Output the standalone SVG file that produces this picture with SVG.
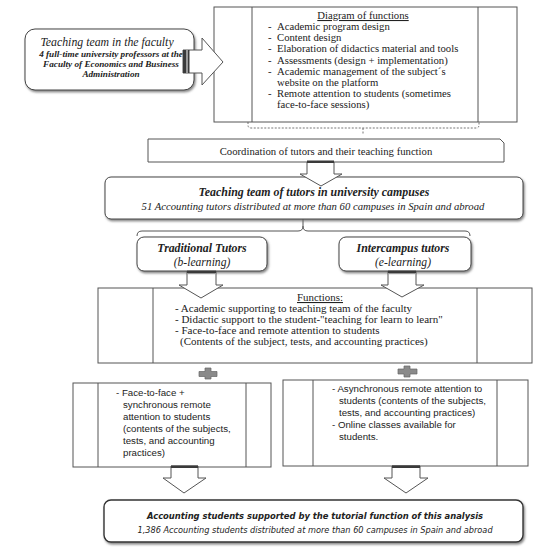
<svg xmlns="http://www.w3.org/2000/svg" width="550" height="548" viewBox="0 0 550 548">
<defs>
<filter id="sh" x="-10%" y="-20%" width="120%" height="150%">
<feDropShadow dx="1.2" dy="1.8" stdDeviation="1.3" flood-color="#666" flood-opacity="0.8"/>
</filter>
<style>
.box{fill:#fff;stroke:#555;stroke-width:1}
.rbox{fill:#fff;stroke:#444;stroke-width:1;filter:url(#sh)}
.ln{stroke:#555;stroke-width:1;fill:none}
.arr{fill:#fff;stroke:#555;stroke-width:1}
.bar{fill:#3a3a3a}
.bar2{fill:#999}
.ser{font-family:"Liberation Serif","Times New Roman",serif;fill:#222}
.f10{font-size:10.7px}
.san{font-family:"Liberation Sans",Arial,sans-serif;font-size:9.7px;fill:#222}
.got{font-family:"DejaVu Sans",Verdana,sans-serif;font-style:italic;fill:#222}
.plus{fill:#8a8a8a;stroke:#666;stroke-width:0.7}
.dash{stroke:#777;stroke-width:1;fill:none;stroke-dasharray:2 1.5}
</style>
</defs>
<rect width="550" height="548" fill="#fff"/>

<g id="connectors">
<path class="dash" d="M248,122 L248,125 Q248,128 251,128 L476,128 Q479,128 479,125 L479,122 M363,128 L363,134"/>
<path class="ln" d="M303,219 L303,226 Q303,231 298,231 L142,231 Q137,231 137,236 M303,226 Q303,231 308,231 L465,231 Q470,231 470,236"/>
</g>

<g id="functions-top">
<rect class="box" x="214" y="7" width="303" height="115"/>
<line class="ln" x1="252" y1="7" x2="252" y2="122"/>
<line class="ln" x1="478" y1="7" x2="478" y2="122"/>
<text class="ser f10" x="363" y="19" text-anchor="middle" text-decoration="underline">Diagram of functions</text>
<g class="ser f10">
<text x="268" y="30">-</text><text x="277" y="30">Academic program design</text>
<text x="268" y="41">-</text><text x="277" y="41">Content design</text>
<text x="268" y="52">-</text><text x="277" y="52">Elaboration of didactics material and tools</text>
<text x="268" y="64">-</text><text x="277" y="64">Assessments  (design + implementation)</text>
<text x="268" y="75">-</text><text x="277" y="75">Academic  management  of the subject´s</text>
<text x="277" y="86">website on the platform</text>
<text x="268" y="97">-</text><text x="277" y="97">Remote attention to students  (sometimes</text>
<text x="277" y="108">face-to-face sessions)</text>
</g>
</g>

<g id="faculty">
<rect class="rbox" x="25" y="29" width="169" height="61" rx="10"/>
<text class="ser" x="107" y="46" text-anchor="middle" font-style="italic" font-size="11.8px">Teaching team  in the faculty</text>
<g class="ser" text-anchor="middle" font-style="italic" font-weight="bold" font-size="9.2px">
<text x="111" y="57">4 full-time university professors at the</text>
<text x="111" y="67">Faculty of Economics and Business</text>
<text x="111" y="77">Administration</text>
</g>
</g>

<g id="arrow-faculty">
<polygon class="arr" points="183,50 202,50 202,38 223,62 202,85 202,73 183,73"/>
<rect class="bar" x="183" y="50" width="3" height="23"/>
<rect class="bar2" x="186" y="50" width="2" height="23"/>
<rect class="bar" x="188" y="50" width="1.5" height="23"/>
</g>

<g id="coordination">
<path class="box" d="M148,139 L500,139 L504,143 L504,162 L148,162 Z"/>
<text class="ser f10" x="326" y="154.5" text-anchor="middle">Coordination of tutors and their teaching function</text>
</g>

<g id="teaching-team">
<rect class="rbox" x="105" y="177" width="418" height="42" rx="6"/>
<text class="ser" x="314" y="196" text-anchor="middle" font-style="italic" font-weight="bold" font-size="11.9px">Teaching team of tutors in university campuses</text>
<text class="ser" x="313" y="210" text-anchor="middle" font-style="italic" font-size="10.7px">51 Accounting tutors distributed at more than 60 campuses  in Spain and abroad</text>
</g>

<g id="arrow-coord">
<polygon class="arr" points="307,162 334,162 334,174 342,174 321,186 300,174 307,174"/>
<rect class="bar" x="307" y="160.5" width="27" height="2.5"/>
</g>

<g id="traditional">
<rect class="rbox" x="137" y="237" width="130" height="34" rx="7"/>
<text class="ser" x="202" y="252" text-anchor="middle" font-style="italic" font-weight="bold" font-size="11.8px">Traditional  Tutors</text>
<text class="ser" x="202" y="265.5" text-anchor="middle" font-style="italic" font-size="11.6px">(b-learning)</text>
</g>

<g id="intercampus">
<rect class="rbox" x="339" y="237" width="132" height="34" rx="7"/>
<text class="ser" x="403" y="252" text-anchor="middle" font-style="italic" font-weight="bold" font-size="11.8px">Intercampus tutors</text>
<text class="ser" x="403" y="265.5" text-anchor="middle" font-style="italic" font-size="11.6px">(e-learning)</text>
</g>

<g id="functions-mid">
<rect class="box" x="98" y="288" width="434" height="75"/>
<line class="ln" x1="153" y1="288" x2="153" y2="363"/>
<line class="ln" x1="477" y1="288" x2="477" y2="363"/>
<text class="ser" x="320" y="301" text-anchor="middle" font-size="10.9px" text-decoration="underline">Functions:</text>
<g class="ser" font-size="11px">
<text x="175" y="312">- Academic supporting to teaching team of the faculty</text>
<text x="175" y="323">- Didactic support to the student-"teaching for learn to learn"</text>
<text x="175" y="334">- Face-to-face and remote attention to students</text>
<text x="180" y="345">(Contents of the subject, tests, and accounting practices)</text>
</g>
</g>

<g id="arrow-traditional">
<polygon class="arr" points="187,271 216,271 216,285 223,285 201,298 179,285 187,285"/>
<rect class="bar" x="187" y="271" width="29" height="2"/>
<rect class="bar2" x="187" y="273" width="29" height="1.2"/>
</g>
<g id="arrow-intercampus">
<polygon class="arr" points="388,271 416,271 416,285 424,285 402,297 381,285 388,285"/>
<rect class="bar" x="388" y="271" width="28" height="2"/>
<rect class="bar2" x="388" y="273" width="28" height="1.2"/>
</g>

<g id="plus-left">
<path class="plus" d="M205,368 L211,368 L211,371.5 L217,371.5 L217,376.5 L211,376.5 L211,379 L205,379 L205,376.5 L199,376.5 L199,371.5 L205,371.5 Z"/>
</g>
<g id="plus-right">
<path class="plus" d="M404,366 L410,366 L410,369 L417,369 L417,374 L410,374 L410,377 L404,377 L404,374 L398,374 L398,369 L404,369 Z"/>
</g>

<g id="left-box">
<rect class="box" x="73" y="383" width="198" height="84"/>
<line class="ln" x1="98" y1="383" x2="98" y2="467"/>
<line class="ln" x1="246" y1="383" x2="246" y2="467"/>
<g class="san">
<text x="116" y="396">- Face-to-face  +</text>
<text x="123" y="408">synchronous  remote</text>
<text x="123" y="420">attention  to students</text>
<text x="123" y="432">(contents  of the subjects,</text>
<text x="123" y="444">tests, and accounting</text>
<text x="123" y="455.5">practices)</text>
</g>
</g>

<g id="right-box">
<rect class="box" x="283" y="380" width="245" height="86"/>
<line class="ln" x1="313" y1="380" x2="313" y2="466"/>
<line class="ln" x1="497" y1="380" x2="497" y2="466"/>
<g class="san">
<text x="332" y="392">- Asynchronous  remote attention to</text>
<text x="339" y="404">students (contents  of the subjects,</text>
<text x="339" y="416">tests, and accounting  practices)</text>
<text x="332" y="428">- Online  classes available  for</text>
<text x="339" y="440">students.</text>
</g>
</g>

<g id="arrow-left-bottom">
<polygon class="arr" points="171,466 198,466 198,478 206,478 184,493 163,478 171,478"/>
<rect class="bar" x="171" y="465.5" width="27" height="2.5"/>
</g>
<g id="arrow-right-bottom">
<polygon class="arr" points="392,466 420,466 420,478 428,478 406,493 384,478 392,478"/>
<rect class="bar" x="392" y="465.5" width="28" height="2.5"/>
</g>

<g id="students">
<rect x="104" y="500" width="419" height="42" rx="7" fill="#fff" stroke="#333" stroke-width="1.4" filter="url(#sh)"/>
<text class="got" x="315" y="519" text-anchor="middle" font-weight="bold" font-size="8.4px">Accounting students supported  by the tutorial function of this analysis</text>
<text class="got" x="315" y="533" text-anchor="middle" font-size="8.2px">1,386 Accounting  students  distributed  at  more  than  60 campuses  in  Spain  and  abroad</text>
</g>
</svg>
